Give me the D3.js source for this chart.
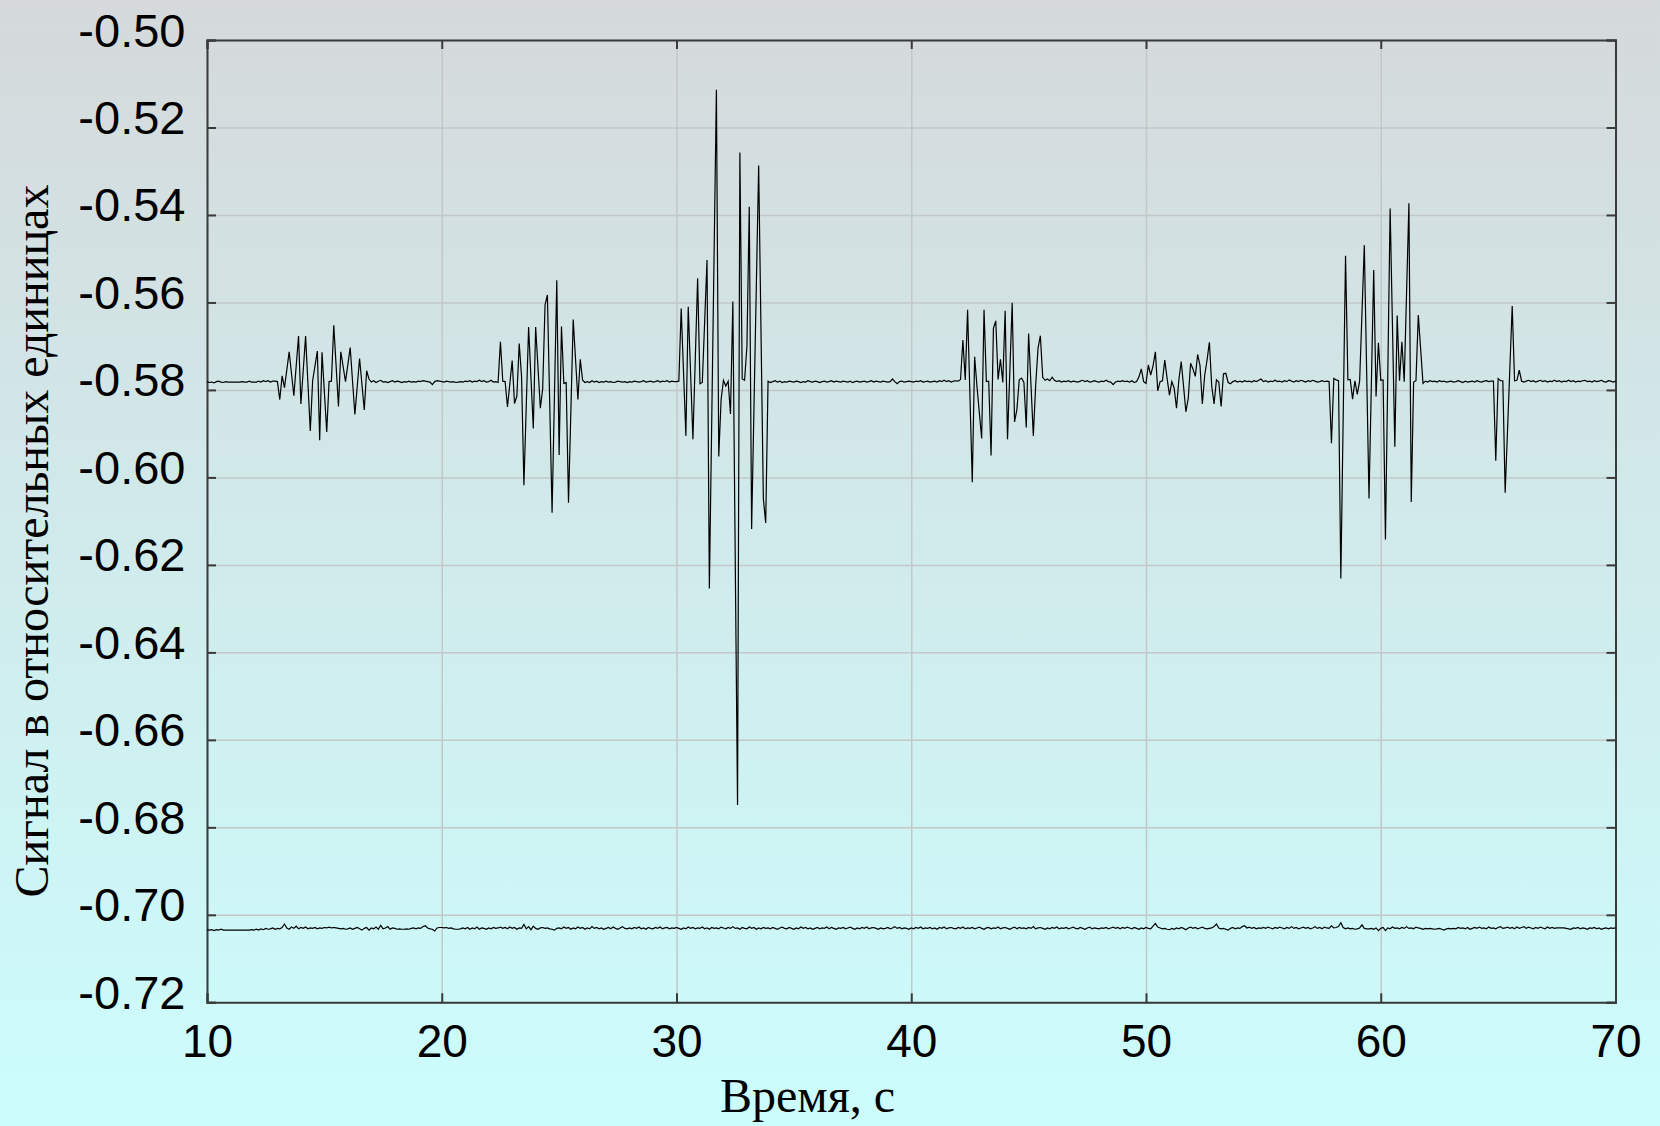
<!DOCTYPE html>
<html>
<head>
<meta charset="utf-8">
<script src="https://cdn.jsdelivr.net/npm/d3@7"></script>
<style>
  html, body { margin: 0; padding: 0; }
  body { width: 1660px; height: 1126px; overflow: hidden; }
</style>
</head>
<body>
<div id="chart"></div>
<script>
// signal sampled every 0.1 s from 10 s to 70 s
var sampleStart = 10;
var sampleStep = 0.1;

var xTicks = [10, 20, 30, 40, 50, 60, 70];
var yTicks = [-0.72, -0.70, -0.68, -0.66, -0.64, -0.62, -0.60, -0.58, -0.56, -0.54, -0.52, -0.50];

var xTitle = "Время, с";
var yTitle = "Сигнал в относительных единицах";

// upper trace (with bursts)
var signalTop = [
  -0.5781,-0.5783,-0.5782,-0.5784,-0.5781,-0.5780,-0.5782,-0.5783,-0.5781,-0.5782,
  -0.5782,-0.5782,-0.5782,-0.5782,-0.5782,-0.5781,-0.5782,-0.5782,-0.5780,-0.5782,
  -0.5782,-0.5782,-0.5780,-0.5782,-0.5779,-0.5781,-0.5779,-0.5782,-0.5780,-0.5780,
  -0.5781,-0.5822,-0.5768,-0.5795,-0.5754,-0.5713,-0.5763,-0.5813,-0.5745,-0.5677,
  -0.5832,-0.5755,-0.5677,-0.5786,-0.5894,-0.5779,-0.5745,-0.5711,-0.5915,-0.5714,
  -0.5805,-0.5896,-0.5781,-0.5780,-0.5652,-0.5745,-0.5838,-0.5713,-0.5747,-0.5781,
  -0.5742,-0.5703,-0.5780,-0.5856,-0.5792,-0.5728,-0.5787,-0.5846,-0.5756,-0.5775,
  -0.5782,-0.5779,-0.5783,-0.5780,-0.5778,-0.5782,-0.5781,-0.5783,-0.5781,-0.5779,
  -0.5782,-0.5780,-0.5781,-0.5783,-0.5781,-0.5782,-0.5780,-0.5782,-0.5781,-0.5782,
  -0.5780,-0.5781,-0.5779,-0.5780,-0.5781,-0.5782,-0.5788,-0.5781,-0.5779,-0.5780,
  -0.5781,-0.5782,-0.5780,-0.5781,-0.5782,-0.5781,-0.5783,-0.5782,-0.5781,-0.5782,
  -0.5780,-0.5781,-0.5779,-0.5782,-0.5780,-0.5781,-0.5778,-0.5781,-0.5779,-0.5782,
  -0.5781,-0.5778,-0.5782,-0.5781,-0.5783,-0.5690,-0.5780,-0.5781,-0.5839,-0.5786,
  -0.5733,-0.5831,-0.5814,-0.5694,-0.5770,-0.6018,-0.5837,-0.5656,-0.5772,-0.5888,
  -0.5656,-0.5749,-0.5842,-0.5797,-0.5606,-0.5583,-0.5832,-0.6081,-0.5815,-0.5549,
  -0.5949,-0.5655,-0.5785,-0.5783,-0.6058,-0.5849,-0.5639,-0.5731,-0.5822,-0.5730,
  -0.5778,-0.5783,-0.5781,-0.5783,-0.5779,-0.5782,-0.5780,-0.5783,-0.5781,-0.5782,
  -0.5780,-0.5782,-0.5781,-0.5783,-0.5782,-0.5780,-0.5781,-0.5782,-0.5781,-0.5783,
  -0.5781,-0.5782,-0.5780,-0.5781,-0.5782,-0.5781,-0.5779,-0.5782,-0.5781,-0.5780,
  -0.5782,-0.5781,-0.5779,-0.5782,-0.5780,-0.5781,-0.5779,-0.5782,-0.5780,-0.5781,
  -0.5781,-0.5780,-0.5614,-0.5760,-0.5905,-0.5610,-0.5762,-0.5913,-0.5729,-0.5545,
  -0.5786,-0.5783,-0.5643,-0.5503,-0.6254,-0.5874,-0.5494,-0.5114,-0.5952,-0.5822,
  -0.5778,-0.5791,-0.5780,-0.5855,-0.5598,-0.6174,-0.6749,-0.5257,-0.5775,-0.5778,
  -0.5700,-0.5381,-0.6118,-0.5841,-0.5564,-0.5287,-0.5668,-0.6049,-0.6104,-0.5780,
  -0.5783,-0.5781,-0.5779,-0.5782,-0.5780,-0.5783,-0.5781,-0.5782,-0.5780,-0.5781,
  -0.5782,-0.5780,-0.5781,-0.5783,-0.5781,-0.5782,-0.5779,-0.5781,-0.5782,-0.5780,
  -0.5781,-0.5783,-0.5781,-0.5780,-0.5782,-0.5781,-0.5779,-0.5782,-0.5780,-0.5781,
  -0.5782,-0.5780,-0.5781,-0.5782,-0.5780,-0.5783,-0.5781,-0.5780,-0.5782,-0.5781,
  -0.5780,-0.5782,-0.5781,-0.5779,-0.5782,-0.5780,-0.5781,-0.5782,-0.5780,-0.5781,
  -0.5782,-0.5781,-0.5775,-0.5781,-0.5786,-0.5781,-0.5780,-0.5782,-0.5781,-0.5780,
  -0.5781,-0.5782,-0.5780,-0.5781,-0.5779,-0.5782,-0.5781,-0.5780,-0.5782,-0.5781,
  -0.5780,-0.5782,-0.5779,-0.5781,-0.5778,-0.5781,-0.5779,-0.5782,-0.5780,-0.5779,
  -0.5780,-0.5776,-0.5686,-0.5777,-0.5617,-0.5814,-0.6011,-0.5724,-0.5792,-0.5852,
  -0.5911,-0.5617,-0.5781,-0.5780,-0.5950,-0.5659,-0.5642,-0.5776,-0.5730,-0.5783,
  -0.5619,-0.5913,-0.5757,-0.5601,-0.5873,-0.5845,-0.5777,-0.5773,-0.5783,-0.5886,
  -0.5671,-0.5788,-0.5905,-0.5790,-0.5705,-0.5676,-0.5771,-0.5778,-0.5775,-0.5779,
  -0.5771,-0.5778,-0.5781,-0.5779,-0.5782,-0.5780,-0.5781,-0.5779,-0.5782,-0.5780,
  -0.5781,-0.5782,-0.5780,-0.5778,-0.5781,-0.5779,-0.5782,-0.5781,-0.5779,-0.5781,
  -0.5782,-0.5780,-0.5781,-0.5778,-0.5781,-0.5782,-0.5788,-0.5782,-0.5780,-0.5781,
  -0.5779,-0.5781,-0.5780,-0.5782,-0.5779,-0.5783,-0.5781,-0.5770,-0.5752,-0.5781,
  -0.5785,-0.5743,-0.5766,-0.5745,-0.5713,-0.5802,-0.5781,-0.5779,-0.5732,-0.5774,
  -0.5812,-0.5781,-0.5796,-0.5842,-0.5777,-0.5735,-0.5792,-0.5850,-0.5819,-0.5739,
  -0.5752,-0.5769,-0.5719,-0.5744,-0.5832,-0.5767,-0.5732,-0.5691,-0.5791,-0.5832,
  -0.5777,-0.5782,-0.5838,-0.5763,-0.5762,-0.5783,-0.5786,-0.5781,-0.5779,-0.5782,
  -0.5780,-0.5782,-0.5779,-0.5781,-0.5780,-0.5782,-0.5779,-0.5781,-0.5778,-0.5775,
  -0.5781,-0.5779,-0.5782,-0.5780,-0.5781,-0.5778,-0.5781,-0.5780,-0.5782,-0.5779,
  -0.5781,-0.5777,-0.5780,-0.5782,-0.5779,-0.5781,-0.5778,-0.5780,-0.5782,-0.5779,
  -0.5781,-0.5778,-0.5780,-0.5782,-0.5781,-0.5779,-0.5781,-0.5780,-0.5781,-0.5922,
  -0.5774,-0.5777,-0.5779,-0.6231,-0.5862,-0.5493,-0.5777,-0.5776,-0.5821,-0.5779,
  -0.5810,-0.5780,-0.5625,-0.5469,-0.5759,-0.6048,-0.5787,-0.5526,-0.5815,-0.5692,
  -0.5778,-0.5777,-0.6142,-0.5764,-0.5385,-0.5658,-0.5930,-0.5630,-0.5779,-0.5690,
  -0.5781,-0.5577,-0.5373,-0.6056,-0.5782,-0.5779,-0.5629,-0.5707,-0.5785,-0.5780,
  -0.5782,-0.5779,-0.5781,-0.5780,-0.5782,-0.5779,-0.5781,-0.5780,-0.5782,-0.5781,
  -0.5780,-0.5782,-0.5781,-0.5779,-0.5781,-0.5783,-0.5780,-0.5782,-0.5781,-0.5780,
  -0.5782,-0.5779,-0.5781,-0.5782,-0.5780,-0.5779,-0.5781,-0.5780,-0.5780,-0.5962,
  -0.5774,-0.5779,-0.5779,-0.6035,-0.5893,-0.5750,-0.5608,-0.5779,-0.5778,-0.5755,
  -0.5780,-0.5782,-0.5780,-0.5778,-0.5781,-0.5779,-0.5782,-0.5780,-0.5778,-0.5781,
  -0.5779,-0.5782,-0.5780,-0.5781,-0.5778,-0.5781,-0.5779,-0.5782,-0.5780,-0.5781,
  -0.5778,-0.5781,-0.5779,-0.5782,-0.5780,-0.5781,-0.5779,-0.5778,-0.5781,-0.5780,
  -0.5782,-0.5779,-0.5781,-0.5780,-0.5778,-0.5781,-0.5782,-0.5779,-0.5780,-0.5782,
  -0.5780
];

// lower trace (reference level)
var signalBottom = [
  -0.7034,-0.7035,-0.7034,-0.7036,-0.7034,-0.7035,-0.7033,-0.7035,-0.7035,-0.7035,
  -0.7035,-0.7035,-0.7035,-0.7035,-0.7035,-0.7035,-0.7035,-0.7035,-0.7035,-0.7034,
  -0.7035,-0.7033,-0.7035,-0.7032,-0.7034,-0.7031,-0.7033,-0.7032,-0.7030,-0.7033,
  -0.7031,-0.7032,-0.7029,-0.7021,-0.7030,-0.7033,-0.7028,-0.7031,-0.7026,-0.7032,
  -0.7029,-0.7031,-0.7028,-0.7032,-0.7030,-0.7031,-0.7029,-0.7032,-0.7030,-0.7031,
  -0.7029,-0.7030,-0.7028,-0.7030,-0.7029,-0.7030,-0.7031,-0.7032,-0.7031,-0.7033,
  -0.7032,-0.7030,-0.7033,-0.7031,-0.7029,-0.7032,-0.7035,-0.7031,-0.7029,-0.7035,
  -0.7030,-0.7032,-0.7028,-0.7033,-0.7024,-0.7032,-0.7030,-0.7027,-0.7033,-0.7030,
  -0.7031,-0.7033,-0.7032,-0.7033,-0.7033,-0.7032,-0.7033,-0.7031,-0.7030,-0.7032,
  -0.7030,-0.7031,-0.7027,-0.7025,-0.7030,-0.7032,-0.7033,-0.7037,-0.7030,-0.7029,
  -0.7029,-0.7030,-0.7029,-0.7031,-0.7030,-0.7032,-0.7033,-0.7033,-0.7032,-0.7030,
  -0.7032,-0.7029,-0.7033,-0.7030,-0.7032,-0.7028,-0.7033,-0.7030,-0.7031,-0.7033,
  -0.7030,-0.7032,-0.7029,-0.7031,-0.7030,-0.7028,-0.7031,-0.7029,-0.7032,-0.7028,
  -0.7031,-0.7029,-0.7033,-0.7030,-0.7031,-0.7022,-0.7032,-0.7027,-0.7034,-0.7026,
  -0.7031,-0.7033,-0.7030,-0.7029,-0.7031,-0.7030,-0.7032,-0.7033,-0.7035,-0.7031,
  -0.7030,-0.7032,-0.7028,-0.7031,-0.7029,-0.7033,-0.7030,-0.7032,-0.7028,-0.7031,
  -0.7029,-0.7033,-0.7030,-0.7032,-0.7027,-0.7031,-0.7029,-0.7032,-0.7030,-0.7033,
  -0.7031,-0.7029,-0.7032,-0.7028,-0.7031,-0.7033,-0.7030,-0.7027,-0.7031,-0.7032,
  -0.7030,-0.7032,-0.7029,-0.7031,-0.7028,-0.7032,-0.7030,-0.7033,-0.7029,-0.7031,
  -0.7032,-0.7029,-0.7031,-0.7028,-0.7032,-0.7030,-0.7029,-0.7032,-0.7030,-0.7031,
  -0.7029,-0.7031,-0.7033,-0.7030,-0.7032,-0.7028,-0.7031,-0.7029,-0.7032,-0.7030,
  -0.7031,-0.7028,-0.7032,-0.7030,-0.7033,-0.7029,-0.7031,-0.7030,-0.7032,-0.7028,
  -0.7030,-0.7032,-0.7029,-0.7031,-0.7027,-0.7031,-0.7030,-0.7033,-0.7029,-0.7031,
  -0.7032,-0.7028,-0.7031,-0.7029,-0.7033,-0.7030,-0.7032,-0.7029,-0.7031,-0.7030,
  -0.7032,-0.7029,-0.7031,-0.7033,-0.7030,-0.7028,-0.7031,-0.7032,-0.7029,-0.7031,
  -0.7033,-0.7030,-0.7032,-0.7028,-0.7031,-0.7029,-0.7032,-0.7030,-0.7033,-0.7031,
  -0.7029,-0.7032,-0.7030,-0.7031,-0.7028,-0.7032,-0.7029,-0.7031,-0.7033,-0.7030,
  -0.7031,-0.7029,-0.7032,-0.7030,-0.7028,-0.7031,-0.7033,-0.7030,-0.7032,-0.7029,
  -0.7031,-0.7028,-0.7032,-0.7030,-0.7029,-0.7031,-0.7033,-0.7030,-0.7032,-0.7031,
  -0.7029,-0.7032,-0.7030,-0.7027,-0.7031,-0.7029,-0.7032,-0.7030,-0.7031,-0.7033,
  -0.7030,-0.7032,-0.7029,-0.7031,-0.7028,-0.7032,-0.7030,-0.7031,-0.7029,-0.7032,
  -0.7030,-0.7033,-0.7029,-0.7031,-0.7028,-0.7032,-0.7030,-0.7029,-0.7031,-0.7032,
  -0.7029,-0.7031,-0.7028,-0.7032,-0.7030,-0.7031,-0.7029,-0.7032,-0.7030,-0.7028,
  -0.7031,-0.7033,-0.7030,-0.7029,-0.7032,-0.7030,-0.7031,-0.7028,-0.7032,-0.7030,
  -0.7029,-0.7031,-0.7033,-0.7030,-0.7028,-0.7032,-0.7029,-0.7031,-0.7030,-0.7032,
  -0.7029,-0.7031,-0.7027,-0.7032,-0.7030,-0.7029,-0.7031,-0.7033,-0.7030,-0.7032,
  -0.7029,-0.7031,-0.7028,-0.7032,-0.7030,-0.7031,-0.7029,-0.7032,-0.7030,-0.7028,
  -0.7031,-0.7032,-0.7029,-0.7031,-0.7033,-0.7030,-0.7028,-0.7032,-0.7030,-0.7031,
  -0.7032,-0.7030,-0.7031,-0.7029,-0.7032,-0.7030,-0.7028,-0.7031,-0.7029,-0.7032,
  -0.7029,-0.7031,-0.7028,-0.7030,-0.7032,-0.7029,-0.7031,-0.7033,-0.7030,-0.7032,
  -0.7029,-0.7031,-0.7032,-0.7026,-0.7020,-0.7028,-0.7030,-0.7032,-0.7031,-0.7033,
  -0.7034,-0.7031,-0.7033,-0.7030,-0.7032,-0.7029,-0.7031,-0.7034,-0.7030,-0.7028,
  -0.7031,-0.7029,-0.7032,-0.7030,-0.7028,-0.7031,-0.7032,-0.7031,-0.7030,-0.7027,
  -0.7021,-0.7030,-0.7032,-0.7031,-0.7033,-0.7035,-0.7031,-0.7029,-0.7032,-0.7030,
  -0.7031,-0.7027,-0.7025,-0.7030,-0.7028,-0.7031,-0.7029,-0.7032,-0.7030,-0.7031,
  -0.7029,-0.7031,-0.7028,-0.7030,-0.7032,-0.7029,-0.7031,-0.7028,-0.7030,-0.7032,
  -0.7029,-0.7031,-0.7027,-0.7031,-0.7029,-0.7032,-0.7030,-0.7028,-0.7031,-0.7029,
  -0.7032,-0.7030,-0.7027,-0.7031,-0.7029,-0.7032,-0.7028,-0.7030,-0.7031,-0.7025,
  -0.7030,-0.7029,-0.7027,-0.7018,-0.7029,-0.7032,-0.7030,-0.7032,-0.7031,-0.7033,
  -0.7032,-0.7030,-0.7023,-0.7031,-0.7032,-0.7032,-0.7031,-0.7033,-0.7030,-0.7036,
  -0.7031,-0.7029,-0.7036,-0.7030,-0.7032,-0.7028,-0.7031,-0.7030,-0.7032,-0.7029,
  -0.7031,-0.7027,-0.7031,-0.7030,-0.7032,-0.7028,-0.7030,-0.7031,-0.7033,-0.7031,
  -0.7032,-0.7031,-0.7032,-0.7033,-0.7032,-0.7031,-0.7033,-0.7035,-0.7032,-0.7031,
  -0.7032,-0.7031,-0.7032,-0.7029,-0.7031,-0.7030,-0.7032,-0.7029,-0.7033,-0.7031,
  -0.7029,-0.7031,-0.7028,-0.7031,-0.7030,-0.7032,-0.7028,-0.7031,-0.7030,-0.7032,
  -0.7029,-0.7027,-0.7031,-0.7030,-0.7028,-0.7031,-0.7029,-0.7032,-0.7028,-0.7031,
  -0.7029,-0.7027,-0.7031,-0.7028,-0.7030,-0.7032,-0.7029,-0.7031,-0.7028,-0.7030,
  -0.7032,-0.7028,-0.7031,-0.7029,-0.7031,-0.7030,-0.7030,-0.7030,-0.7030,-0.7031,
  -0.7032,-0.7033,-0.7030,-0.7031,-0.7029,-0.7032,-0.7030,-0.7031,-0.7033,-0.7030,
  -0.7031,-0.7029,-0.7032,-0.7030,-0.7033,-0.7031,-0.7030,-0.7032,-0.7030,-0.7031,
  -0.7030
];

var svgWidth = 1660;
var svgHeight = 1126;

var margin = {
  top: 40,
  right: 44.5,
  bottom: 123.7,
  left: 207
};

var width = svgWidth - margin.left - margin.right;
var height = svgHeight - margin.top - margin.bottom;

var svg = d3.select("#chart")
  .append("svg")
  .attr("width", svgWidth)
  .attr("height", svgHeight);

// background: grey at the top fading into pale cyan
var grad = svg.append("defs").append("linearGradient")
  .attr("id", "bg")
  .attr("x1", 0).attr("y1", 0)
  .attr("x2", 0).attr("y2", 1);
grad.append("stop").attr("offset", "0%").attr("stop-color", "#d5d9db");
grad.append("stop").attr("offset", "100%").attr("stop-color", "#ccfdfd");

svg.append("rect")
  .attr("width", svgWidth)
  .attr("height", svgHeight)
  .attr("fill", "url(#bg)");

var chartGroup = svg.append("g")
  .attr("transform", `translate(${margin.left}, ${margin.top})`);

var xScale = d3.scaleLinear()
  .domain([xTicks[0], xTicks[xTicks.length - 1]])
  .range([0, width]);

var yScale = d3.scaleLinear()
  .domain([yTicks[0], yTicks[yTicks.length - 1]])
  .range([height, 0]);

// grid
chartGroup.append("g")
  .attr("class", "grid")
  .attr("transform", `translate(0, ${height})`)
  .call(d3.axisBottom(xScale).tickValues(xTicks).tickSize(-height).tickFormat(""));

chartGroup.append("g")
  .attr("class", "grid")
  .call(d3.axisLeft(yScale).tickValues(yTicks).tickSize(-width).tickFormat(""));

chartGroup.selectAll(".grid .domain").remove();
chartGroup.selectAll(".grid line")
  .attr("stroke", "#c3c7c8")
  .attr("stroke-width", 1.5);

// axes with inward ticks on all four sides
var bottomAxis = d3.axisBottom(xScale).tickValues(xTicks).tickSize(-9).tickFormat(d => d);
var topAxis = d3.axisTop(xScale).tickValues(xTicks).tickSize(-9).tickFormat("");
var leftAxis = d3.axisLeft(yScale).tickValues(yTicks).tickSize(-9).tickFormat(d => d.toFixed(2));
var rightAxis = d3.axisRight(yScale).tickValues(yTicks).tickSize(-9).tickFormat("");

var gBottom = chartGroup.append("g")
  .attr("transform", `translate(0, ${height})`)
  .call(bottomAxis);
var gTop = chartGroup.append("g").call(topAxis);
var gLeft = chartGroup.append("g").call(leftAxis);
var gRight = chartGroup.append("g")
  .attr("transform", `translate(${width}, 0)`)
  .call(rightAxis);

[gBottom, gTop, gLeft, gRight].forEach(function(g) {
  g.select(".domain").attr("stroke", "#3a3a3a").attr("stroke-width", 2);
  g.selectAll(".tick line").attr("stroke", "#3a3a3a").attr("stroke-width", 2);
});

gBottom.selectAll("text")
  .attr("y", 54.4)
  .attr("dy", 0)
  .attr("fill", "#000")
  .attr("font-size", "46px")
  .attr("font-family", "Liberation Sans, Arial, sans-serif");

gLeft.selectAll("text")
  .attr("x", -21.5)
  .attr("dy", 6)
  .attr("fill", "#000")
  .attr("font-size", "47px")
  .attr("font-family", "Liberation Sans, Arial, sans-serif");

// signal traces
var line = d3.line()
  .x((d, i) => xScale(sampleStart + i * sampleStep))
  .y(d => yScale(d));

chartGroup.append("path")
  .datum(signalBottom)
  .attr("fill", "none")
  .attr("stroke", "#000")
  .attr("stroke-width", 1.2)
  .attr("d", line);

chartGroup.append("path")
  .datum(signalTop)
  .attr("fill", "none")
  .attr("stroke", "#000")
  .attr("stroke-width", 1.2)
  .attr("d", line);

// axis titles
svg.append("text")
  .attr("x", 807.5)
  .attr("y", 1111.7)
  .attr("text-anchor", "middle")
  .attr("font-family", "Liberation Serif, Times New Roman, serif")
  .attr("font-size", "48px")
  .attr("fill", "#000")
  .text(xTitle);

svg.append("text")
  .attr("transform", "translate(48, 541) rotate(-90)")
  .attr("text-anchor", "middle")
  .attr("font-family", "Liberation Serif, Times New Roman, serif")
  .attr("font-size", "48px")
  .attr("fill", "#000")
  .text(yTitle);
</script>
</body>
</html>
